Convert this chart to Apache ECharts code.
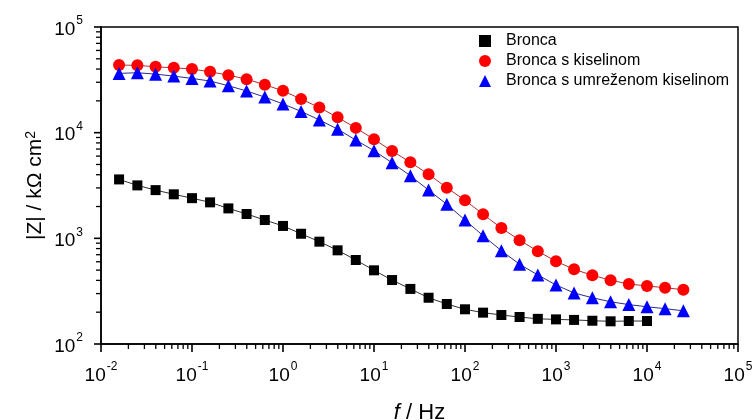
<!DOCTYPE html>
<html>
<head>
<meta charset="utf-8">
<script src="https://cdn.jsdelivr.net/npm/echarts@6/dist/echarts.min.js"></script>
<style>
html,body{margin:0;padding:0;background:#fff;}
#chart{width:753px;height:420px;}
</style>
</head>
<body>
<div id="chart"></div>
<script>
// Frequencies (Hz)
var freq = [0.0158, 0.0251, 0.0398, 0.0631, 0.1, 0.158, 0.251, 0.398, 0.631, 1,
  1.58, 2.51, 3.98, 6.31, 10, 15.8, 25.1, 39.8, 63.1, 100,
  158, 251, 398, 631, 1000, 1580, 2510, 3980, 6310, 10000, 15800, 25100];

// |Z| / kOhm cm2
var bronca = [3610, 3170, 2860, 2610, 2400, 2190, 1920, 1700, 1490, 1310,
  1105, 930, 770, 624, 498, 403, 332, 274, 239, 213,
  198, 188, 180, 173, 171, 169, 166, 164, 165, 165];
var broncaKiselina = [43600, 43400, 42000, 41100, 40000, 37700, 35000, 32100, 28400, 24900,
  20800, 17300, 13960, 11100, 8650, 6700, 5240, 4040, 3010, 2290,
  1690, 1250, 960, 755, 606, 509, 447, 401, 370, 354, 341, 326];
var broncaUmrezena = [36400, 36900, 35800, 34300, 32600, 30800, 27800, 24800, 21700, 18700,
  15900, 13200, 10800, 8510, 6750, 5190, 3910, 2860, 2100, 1490,
  1060, 764, 568, 450, 362, 304, 274, 251, 236, 225, 216, 206];

var seriesNames = ['Bronca', 'Bronca s kiselinom', 'Bronca s umreženom kiselinom'];
var xMajorTicks = [0.01, 0.1, 1, 10, 100, 1000, 10000, 100000];
var yMajorTicks = [100, 1000, 10000, 100000];

var X_MIN = 0.01, X_MAX = 100000, Y_MIN = 100, Y_MAX = 100000;

function minors(lo, hi) {
  var out = [];
  for (var d = lo; d < hi; d *= 10) {
    for (var m = 2; m <= 9; m++) out.push(+(d * m).toPrecision(3));
  }
  return out;
}
var xMinorTicks = minors(X_MIN, X_MAX);
var yMinorTicks = minors(Y_MIN, Y_MAX);

function pairs(xs, ys) {
  return ys.map(function (v, i) { return [xs[i], v]; });
}
function powLabel(v) {
  var e = Math.round(Math.log10(v));
  return '{b|10}{s|' + e + '}';
}
var labelRich = {
  b: { fontSize: 19, fontFamily: 'Liberation Sans', color: '#000', lineHeight: 24, verticalAlign: 'bottom' },
  s: { fontSize: 12, fontFamily: 'Liberation Sans', color: '#000', lineHeight: 24, verticalAlign: 'top', padding: [0, 0, 8, 1] }
};

var axisBlack = { lineStyle: { color: '#000', width: 1.5 } };

var chart = echarts.init(document.getElementById('chart'));
chart.setOption({
  animation: false,
  backgroundColor: '#fff',
  grid: { left: 101, right: 15, top: 27, bottom: 76, outerBoundsMode: 'none', containLabel: false,
    show: true, borderColor: '#000', borderWidth: 1.5, backgroundColor: 'transparent' },
  legend: {
    orient: 'vertical', left: 474, top: 28, itemGap: 4, itemWidth: 12, itemHeight: 12,
    textStyle: { fontSize: 16, fontFamily: 'Liberation Sans', color: '#000', padding: [0, 0, 0, 10] },
    data: [
      { name: seriesNames[0], icon: 'rect' },
      { name: seriesNames[1], icon: 'circle' },
      { name: seriesNames[2], icon: 'triangle' }
    ]
  },
  xAxis: {
    type: 'log', logBase: 10, min: X_MIN, max: X_MAX,
    name: '{i|f} / Hz', nameLocation: 'middle', nameGap: 58, nameMoveOverlap: false,
    nameTextStyle: { fontSize: 22, fontFamily: 'Liberation Sans', color: '#000',
      rich: { i: { fontSize: 22, fontStyle: 'italic', fontFamily: 'Liberation Sans', color: '#000' } } },
    axisLine: axisBlack,
    axisTick: { show: false },
    axisLabel: { margin: 17, formatter: powLabel, rich: labelRich },
    splitLine: { show: false }
  },
  yAxis: {
    type: 'log', logBase: 10, min: Y_MIN, max: Y_MAX,
    name: '|Z| / kΩ cm{s|2}', nameLocation: 'middle', nameGap: 54, nameRotate: 90, nameMoveOverlap: false,
    nameTextStyle: { fontSize: 21, fontFamily: 'Liberation Sans', color: '#000',
      rich: { s: { fontSize: 14, fontFamily: 'Liberation Sans', color: '#000', verticalAlign: 'top', padding: [0, 0, 9, 0] } } },
    axisLine: axisBlack,
    axisTick: { show: false },
    axisLabel: { margin: 18, formatter: powLabel, rich: labelRich },
    splitLine: { show: false }
  },
  series: [{
    name: seriesNames[0], type: 'line', symbol: 'rect', symbolSize: 10,
    data: pairs(freq, bronca),
    itemStyle: { color: '#000' },
    lineStyle: { color: '#333', width: 1 }
  }, {
    name: seriesNames[1], type: 'line', symbol: 'circle', symbolSize: 12,
    data: pairs(freq, broncaKiselina),
    itemStyle: { color: '#ff0000' },
    lineStyle: { color: '#b03030', width: 1 }
  }, {
    name: seriesNames[2], type: 'line', symbol: 'triangle', symbolSize: 13,
    data: pairs(freq, broncaUmrezena),
    itemStyle: { color: '#0000ff' },
    lineStyle: { color: '#2a2a90', width: 1 }
  }]
});

// Tick marks as graphic lines, positioned through the axes' own scales
function tickLines(isX, values, len, width) {
  return values.map(function (v) {
    var p = chart.convertToPixel({ gridIndex: 0 }, isX ? [v, Y_MIN] : [X_MIN, v]);
    var shape = isX
      ? { x1: p[0], y1: p[1], x2: p[0], y2: p[1] + len }
      : { x1: p[0], y1: p[1], x2: p[0] - len, y2: p[1] };
    return { type: 'line', silent: true, z: 100, shape: shape,
      style: { stroke: '#000', lineWidth: width } };
  });
}
var tickGraphics = [].concat(
  tickLines(true, xMajorTicks, 8, 1.6),
  tickLines(true, xMinorTicks, 5, 1.3),
  tickLines(false, yMajorTicks, 7, 1.6),
  tickLines(false, yMinorTicks, 5, 1.3)
);
chart.setOption({ graphic: { elements: tickGraphics } });
</script>
</body>
</html>
